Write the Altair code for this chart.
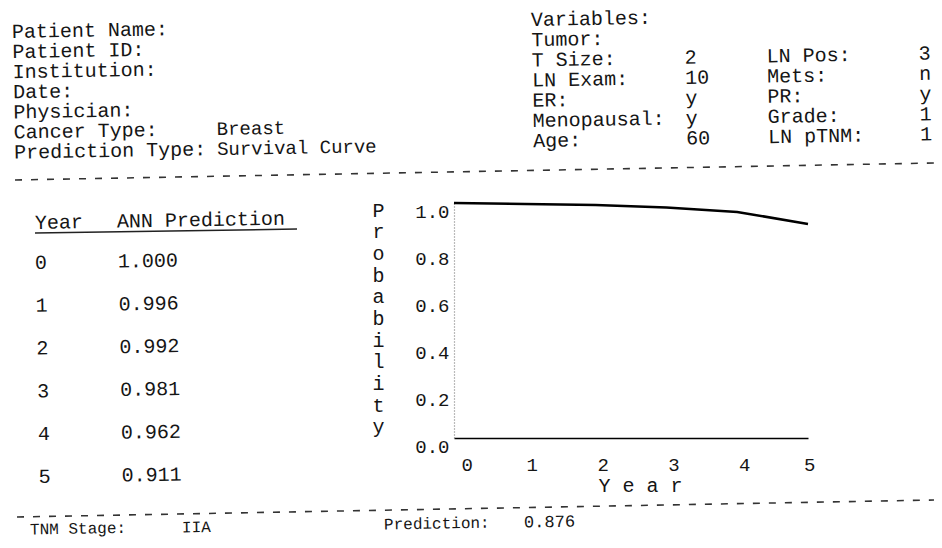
import altair as alt
import pandas as pd

# ---------------- data ----------------
years = [0, 1, 2, 3, 4, 5]
ann_prediction = [1.000, 0.996, 0.992, 0.981, 0.962, 0.911]
x_ticks = [0, 1, 2, 3, 4, 5]
y_ticks = [0.0, 0.2, 0.4, 0.6, 0.8, 1.0]

patient_labels = ["Patient Name:", "Patient ID:", "Institution:", "Date:",
                  "Physician:", "Cancer Type:", "Prediction Type:"]
patient_values = ["", "", "", "", "", "Breast", "Survival Curve"]

var_labels = ["Variables:", "Tumor:", "T Size:", "LN Exam:", "ER:", "Menopausal:", "Age:"]
var_values = ["", "", "2", "10", "y", "y", "60"]
var_labels2 = ["", "", "LN Pos:", "Mets:", "PR:", "Grade:", "LN pTNM:"]
var_values2 = ["", "", "3", "n", "y", "1", "1"]

table_headers = ["Year", "ANN Prediction"]
footer_labels = ["TNM Stage:", "Prediction:"]
footer_values = ["IIA", "0.876"]

# ---------------- layout ----------------
OX, OY = 454, 203          # page position of plot origin
W, H = 354, 235            # plot area
S = 0.017                  # slight skew of the scanned page
FONT = "Liberation Mono"
INK = "#151515"

def rel(x, y):
    return x - OX, y - OY

ann = []
def add(text, x, y, fs=20):
    px, py = rel(x, y)
    ann.append({"t": text, "px": px, "py": py, "fs": fs})

# left header block
for i, (lab, val) in enumerate(zip(patient_labels, patient_values)):
    y = 32 + 20.1 * i
    add(lab, 12 + S * (y - 32), y)
    if val:
        add(val, 215 + S * (y - 32), y - S * 205, 19)

# right header block
cols_x = [531, 684, 766, 918]
for i in range(len(var_labels)):
    y = 20 + 20.2 * i
    for cx, arr in zip(cols_x, [var_labels, var_values, var_labels2, var_values2]):
        if arr[i]:
            add(arr[i], cx + S * (y - 20), y - S * (cx - 531))

# table
add(table_headers[0], 35, 223)
add(table_headers[1], 117, 221.6)
for i, (yr, v) in enumerate(zip(years, ann_prediction)):
    y = 263 + 42.8 * i
    add(str(yr), 35 + S * (y - 263), y)
    add(f"{v:.3f}", 118 + S * (y - 263), y - 1.4)

# footer
add(footer_labels[0], 30, 529.5, 16)
add(footer_values[0], 182, 527.5, 16)
add(footer_labels[1], 384, 524.5, 16)
add(footer_values[1], 524, 522.5, 17)

ann_df = pd.DataFrame(ann)

# separators (dashed) and table underline
def seg(x1, y1, x2, y2):
    a, b = rel(x1, y1)
    c, d = rel(x2, y2)
    return {"x": a, "y": b, "x2": c, "y2": d}

dash_df = pd.DataFrame([seg(15, 180, 934, 163), seg(17, 517, 934, 500)])
under_df = pd.DataFrame([seg(35, 233, 297, 229)])

curve_df = pd.DataFrame({"year": years, "p": ann_prediction})

# ---------------- chart ----------------
curve = alt.Chart(curve_df).mark_line(color="black", strokeWidth=2.5).encode(
    x=alt.X("year:Q",
            scale=alt.Scale(domain=[0, 5], nice=False, zero=False),
            axis=alt.Axis(values=x_ticks, format="d", title="Y e a r",
                          ticks=False, tickSize=0, labelPadding=26,
                          labelBaseline="middle", labelOffset=7,
                          labelFontSize=19, domainColor="black", domainWidth=1.6,
                          titleX=186, titleY=47, titleBaseline="middle",
                          titleAlign="center", titleFontSize=20)),
    y=alt.Y("p:Q",
            scale=alt.Scale(domain=[0, 1], nice=False),
            axis=alt.Axis(values=y_ticks, format=".1f", title=list("Probability"),
                          ticks=False, tickSize=0, labelPadding=5, labelOffset=8,
                          labelFontSize=19, domainColor="#777", domainDash=[1, 2],
                          domainWidth=1.2,
                          titleAngle=0, titleX=-76, titleY=7,
                          titleBaseline="middle", titleAlign="center",
                          titleLineHeight=21.7, titleFontSize=20)),
)

texts = alt.Chart(ann_df).mark_text(
    align="left", baseline="middle", font=FONT, angle=359, color=INK
).encode(
    x=alt.X("px:Q", scale=None, axis=None),
    y=alt.Y("py:Q", scale=None, axis=None),
    size=alt.Size("fs:Q", scale=None, legend=None),
    text="t:N",
)

dashes = alt.Chart(dash_df).mark_rule(color="#333", strokeWidth=1.6, strokeDash=[7, 9]).encode(
    x=alt.X("x:Q", scale=None, axis=None), x2="x2:Q",
    y=alt.Y("y:Q", scale=None, axis=None), y2="y2:Q",
)

underline = alt.Chart(under_df).mark_rule(color="#222", strokeWidth=1.5).encode(
    x=alt.X("x:Q", scale=None, axis=None), x2="x2:Q",
    y=alt.Y("y:Q", scale=None, axis=None), y2="y2:Q",
)

chart = alt.layer(curve, dashes, underline, texts).properties(
    width=W, height=H,
    autosize=alt.AutoSizeParams(type="none"),
    padding={"left": OX - 8, "top": OY - 8, "right": 926 - (OX - 8) - W, "bottom": 532 - (OY - 8) - H},
    background="white",
).configure_view(stroke=None).configure_axis(
    grid=False, labelFont=FONT, titleFont=FONT, labelColor=INK, titleColor=INK,
    titleFontWeight="normal",
)

chart.save("out.html", embed_options={"renderer": "svg", "actions": False})
